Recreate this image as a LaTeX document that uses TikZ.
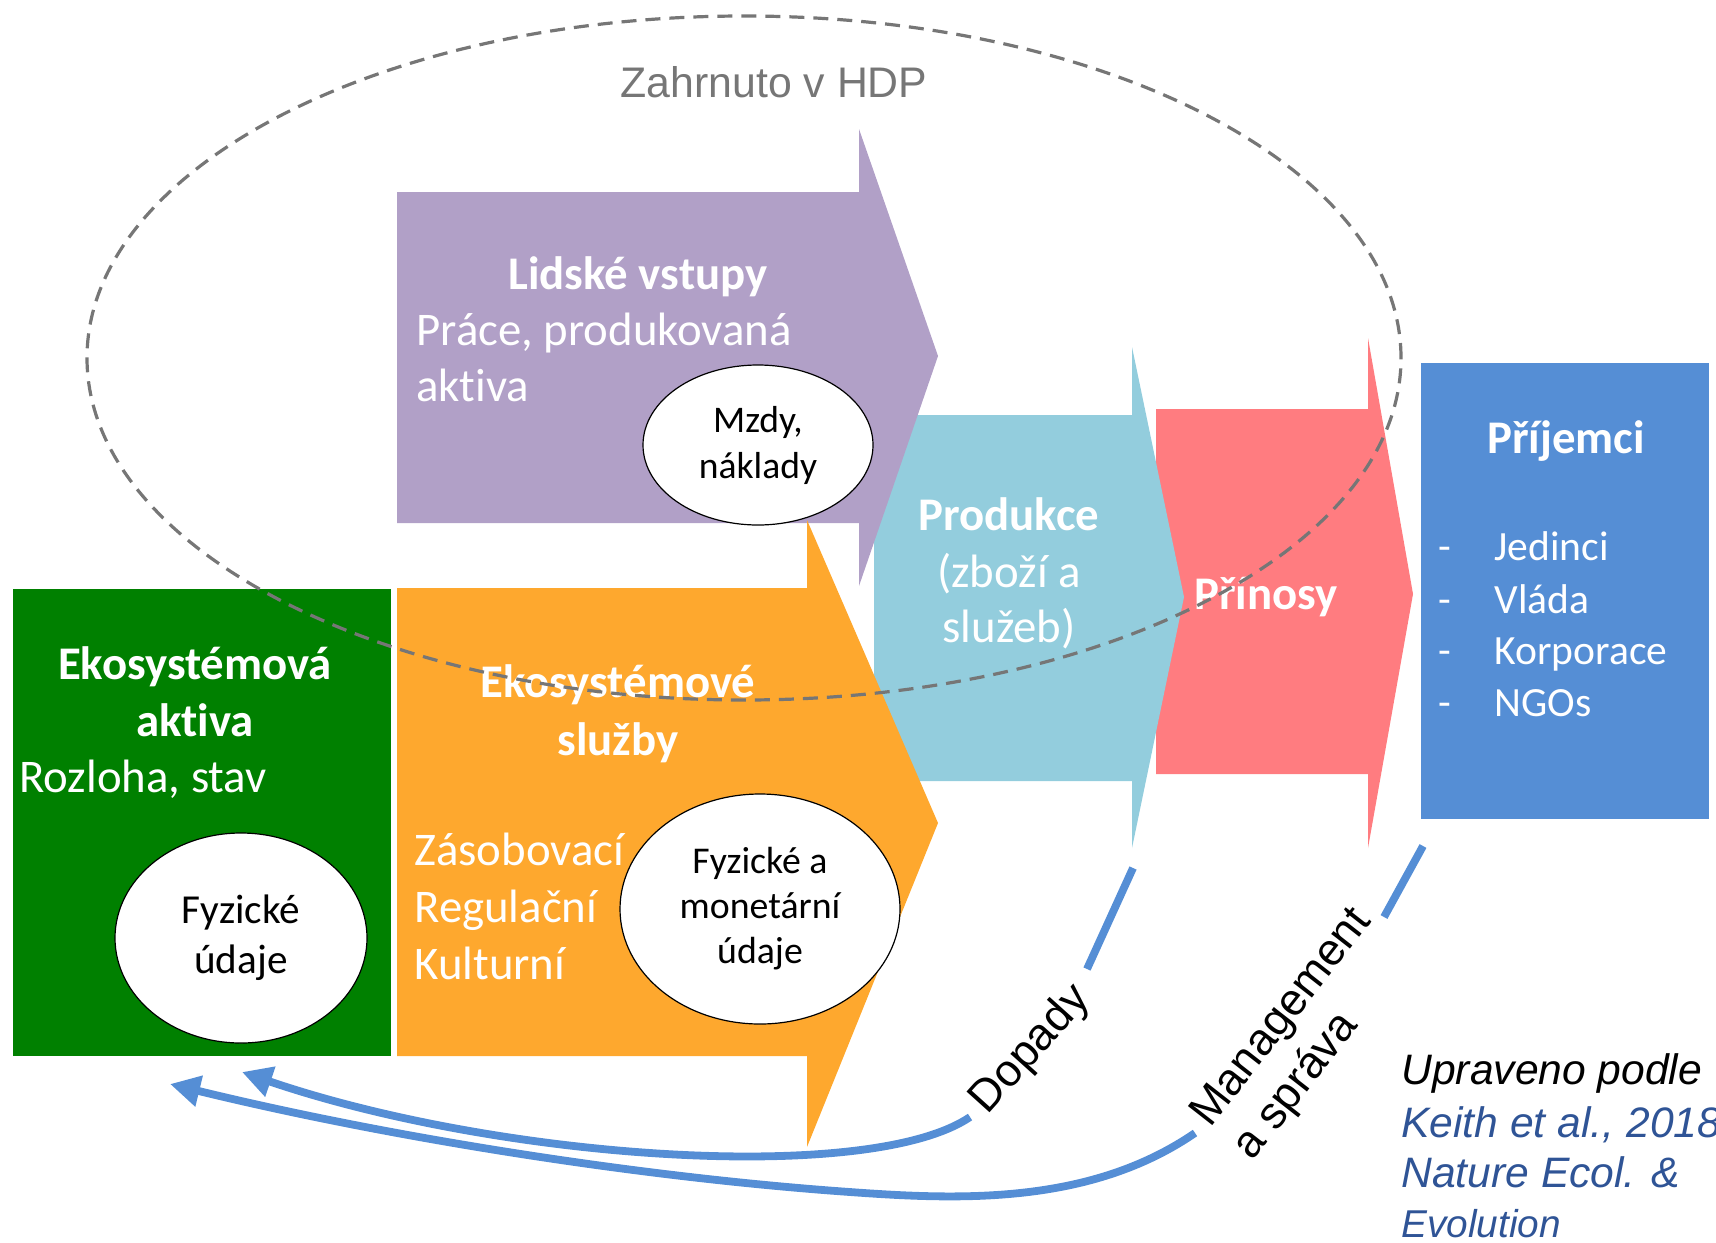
\documentclass[tikz,border=0pt]{standalone}
\usepackage{fontspec}
\setmainfont{Carlito}[Ligatures=NoCommon]
\newfontfamily\arialf{Liberation Sans}
\usetikzlibrary{arrows.meta,shapes.geometric}
\definecolor{purp}{RGB}{177,160,199}
\definecolor{orng}{RGB}{254,168,46}
\definecolor{grn}{RGB}{0,128,0}
\definecolor{lblue}{RGB}{147,205,221}
\definecolor{pinkc}{RGB}{255,124,128}
\definecolor{blu}{RGB}{85,142,213}
\definecolor{dgray}{RGB}{118,118,118}
\definecolor{citec}{RGB}{47,84,150}
\begin{document}
\begin{tikzpicture}[x=0.5pt,y=-0.5pt,
  wtext/.style={text=white,font=\fontsize{23.4}{28}\selectfont,inner sep=0pt,text height=20pt,text depth=5pt},
  wbold/.style={wtext,font=\fontsize{23.4}{28}\selectfont\bfseries},
  ltext/.style={text=white,font=\fontsize{20.8}{26}\selectfont,inner sep=0pt,text height=17.4pt,text depth=4pt},
  bubble/.style={ellipse,draw=black,line width=0.6pt,fill=white,inner sep=0pt,align=center},
  cite/.style={font=\arialf\itshape\fontsize{21.3}{26}\selectfont,inner sep=0pt,anchor=west,text height=19.6pt,text depth=4.4pt},
  conn/.style={draw=blu,line width=3.9pt},
  tip/.style={-{Triangle[length=15pt,width=15pt]}},
  rlabel/.style={font=\arialf\fontsize{22.5}{27}\selectfont,inner sep=0pt}]
\useasboundingbox (0,0) rectangle (1716,1242);
% flow arrows
\fill[pinkc] (1156,409) -- (1368,409) -- (1368,338) -- (1413,594) -- (1368,848) -- (1368,774) -- (1156,774) -- cycle;
\fill[lblue] (874,415) -- (1132,415) -- (1132,347) -- (1184,597) -- (1132,848) -- (1132,781) -- (874,781) -- cycle;
\fill[purp] (397,192) -- (859,192) -- (859,129) -- (938,356) -- (859,586) -- (859,523) -- (397,523) -- cycle;
\fill[orng] (397,588) -- (807,588) -- (807,520) -- (938,823) -- (807,1147) -- (807,1056) -- (397,1056) -- cycle;
\fill[grn] (13,589) rectangle (391,1056);
\fill[blu] (1421,363) rectangle (1709,819);
% bubbles
\node[bubble,minimum width=115pt,minimum height=80pt,font=\fontsize{18.8}{23}\selectfont] (mzdy) at (758,445) {Mzdy,\\náklady};
\node[bubble,minimum width=126pt,minimum height=105pt,font=\fontsize{20.6}{25}\selectfont] (fyz) at (241,938) {Fyzické\\údaje};
\node[bubble,minimum width=140pt,minimum height=115pt,font=\fontsize{18.9}{22.5}\selectfont] (fyzmon) at (760,909) {Fyzické a\\monetární\\údaje};
% texts
\node[wbold] (lidske) at (638,274) {Lidské vstupy};
\node[wtext,anchor=west] (prace) at (416,330) {Práce, produkovaná};
\node[wtext,anchor=west] (aktivaA) at (416,386) {aktiva};
\node[wbold] (produkce) at (1009,515) {Produkce};
\node[wtext] (zbozi) at (1009,572) {(zboží a};
\node[wtext] (sluzeb) at (1009,627) {služeb)};
\node[wbold] (prinosy) at (1266,594) {Přínosy};
\node[wbold] (prijemci) at (1566,438) {Příjemci};
\node[ltext] (d1) at (1445,547) {-};
\node[ltext] (d2) at (1445,600) {-};
\node[ltext] (d3) at (1445,651) {-};
\node[ltext] (d4) at (1445,703) {-};
\node[ltext,anchor=west] (jed) at (1494,547) {Jedinci};
\node[ltext,anchor=west] (vla) at (1494,600) {Vláda};
\node[ltext,anchor=west] (kor) at (1494,651) {Korporace};
\node[ltext,anchor=west] (ngo) at (1494,703) {NGOs};
\node[wbold] (eko1) at (195,664) {Ekosystémová};
\node[wbold] (eko2) at (195,721) {aktiva};
\node[wtext,anchor=west] (rozloha) at (19,777) {Rozloha, stav};
\node[wbold] (es1) at (618,682) {Ekosystémové};
\node[wbold] (es2) at (618,740) {služby};
\node[wtext,anchor=west] (zas) at (414,850) {Zásobovací};
\node[wtext,anchor=west] (reg) at (414,907) {Regulační};
\node[wtext,anchor=west] (kul) at (414,964) {Kulturní};
\node[font=\arialf\fontsize{21.4}{26}\selectfont,text=dgray,inner sep=0pt] (hdp) at (774,82) {Zahrnuto v HDP};
% citation
\node[cite] (c1) at (1401,1069) {Upraveno podle};
\node[cite,text=citec] (c2) at (1401,1122) {Keith et al., 2018};
\node[cite,text=citec] (c3) at (1401,1172) {Nature Ecol. \&};
\node[cite,text=citec,font=\arialf\itshape\fontsize{19.4}{24}\selectfont] (c4) at (1401,1222) {Evolution};
% dashed GDP boundary
\draw[dgray,line width=1.6pt,dash pattern=on 7.5pt off 4.5pt] (744,358) ellipse [x radius=328.5pt,y radius=171pt];
% feedback connectors
\coordinate (da) at (1133,868);
\coordinate (db) at (1087,969);
\coordinate (dc) at (970,1117);
\coordinate (dend) at (242,1072);
\coordinate (ma) at (1423,846);
\coordinate (mb) at (1384,917);
\coordinate (mc) at (1195,1133);
\coordinate (mend) at (170,1084);
\draw[conn] (da) -- (db);
\draw[conn,tip] (dc) .. controls (870,1185) and (500,1160) .. (dend);
\draw[conn] (ma) -- (mb);
\draw[conn,tip] (mc) .. controls (1090,1205) and (960,1200) .. (850,1192) .. controls (650,1178) and (400,1140) .. (mend);
\node[rlabel,rotate=48] (dopady) at (1031,1050) {Dopady};
\node[rlabel,rotate=52,align=left] (mgmt) at (1304,1035) {Management\\a správa};
\end{tikzpicture}
\end{document}
